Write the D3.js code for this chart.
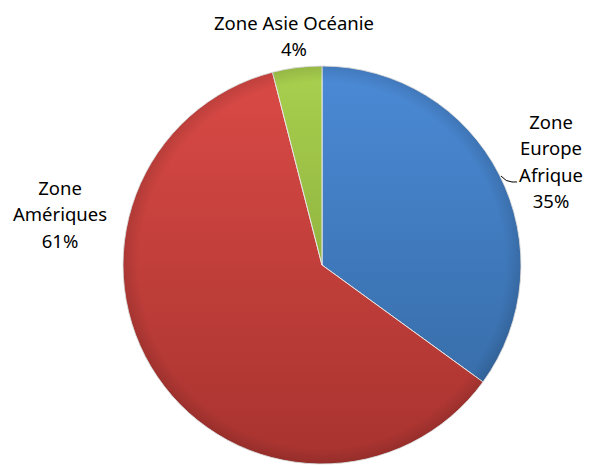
<!DOCTYPE html>
<meta charset="utf-8">
<style>
body { margin: 0; background: #fff; }
.lbl { font-family: "Noto Sans", sans-serif; font-size: 18.5px; fill: #000; }
</style>
<svg width="589" height="465"></svg>
<script src="https://cdnjs.cloudflare.com/ajax/libs/d3/7.8.5/d3.min.js"></script>
<script>
var zones = ["Zone Europe Afrique", "Zone Amériques", "Zone Asie Océanie"];
var parts = [35, 61, 4];
var labelLines = [["Zone", "Europe", "Afrique", "35%"], ["Zone", "Amériques", "61%"], ["Zone Asie Océanie", "4%"]];
var topColors = ["#4b8ad6", "#da4a46", "#a9d04e"];
var bottomColors = ["#33679f", "#a8332f", "#7a9a33"];

var svg = d3.select("svg"),
    cx = 322, cy = 265, r = 199;

var pie = d3.pie().sort(null).value(function(d) { return d; });
var arc = d3.arc().innerRadius(0).outerRadius(r);
var arcs = pie(parts);

var defs = svg.append("defs");
topColors.forEach(function(c, i) {
  var g = defs.append("linearGradient")
      .attr("id", "grad" + i)
      .attr("gradientUnits", "userSpaceOnUse")
      .attr("x1", 0).attr("y1", -r).attr("x2", 0).attr("y2", r);
  g.append("stop").attr("offset", "0%").attr("stop-color", c);
  g.append("stop").attr("offset", "100%").attr("stop-color", bottomColors[i]);
});
// soft bevel shading near rim
var rg = defs.append("radialGradient").attr("id", "rim")
    .attr("gradientUnits", "userSpaceOnUse")
    .attr("cx", 0).attr("cy", 0).attr("r", r);
rg.append("stop").attr("offset", "92%").attr("stop-color", "#000").attr("stop-opacity", 0);
rg.append("stop").attr("offset", "100%").attr("stop-color", "#000").attr("stop-opacity", 0.12);

var g = svg.append("g").attr("transform", "translate(" + cx + "," + cy + ")");

g.selectAll(".slice")
  .data(arcs)
  .enter().append("path")
    .attr("class", "slice")
    .attr("d", arc)
    .attr("fill", function(d, i) { return "url(#grad" + i + ")"; })
    .attr("stroke", "#e6e6e6")
    .attr("stroke-width", 1);

g.selectAll(".rim")
  .data(arcs)
  .enter().append("path")
    .attr("d", arc)
    .attr("fill", "url(#rim)");

// label boxes (Excel best-fit placement), centre x and first baseline
var labelPos = [[551, 129], [60, 195], [294, 30]];
var lineH = 26.3;

arcs.forEach(function(d, i) {
  var lines = labelLines[i];
  var t = svg.append("text").attr("class", "lbl").attr("text-anchor", "middle");
  lines.forEach(function(s, k) {
    t.append("tspan").attr("x", labelPos[i][0])
      .attr("y", labelPos[i][1] + k * lineH)
      .text(s);
  });
});

// leader line for Europe Afrique
var la = 1.107;
var px = cx + Math.sin(la) * r, py = cy - Math.cos(la) * r;
svg.append("path")
  .attr("d", "M" + (px + 1) + "," + py + " Q" + (px + 6) + "," + (py + 6) + " " + (px + 12) + "," + (py + 6) + " L" + (px + 17) + "," + (py + 6))
  .attr("fill", "none").attr("stroke", "#000").attr("stroke-width", 1);
</script>
